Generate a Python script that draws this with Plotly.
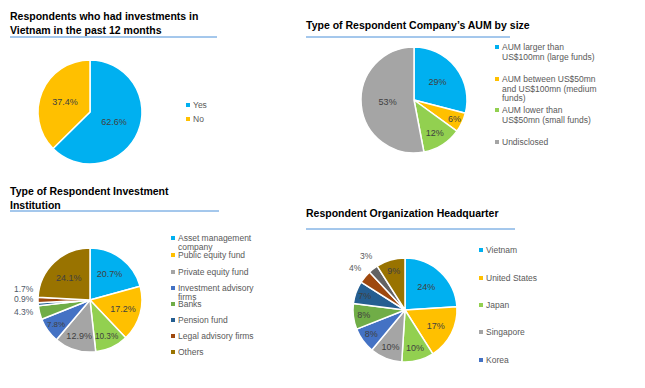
import plotly.graph_objects as go

# page body has an 8px margin: figure is shrunk and coordinates shifted so it fits the 645x388 view
OX, OY = 8, 8
W, H = 645 - OX, 388 - OY

# ---------------- data ----------------
invest_labels = ["Yes", "No"]
invest_values = [62.6, 37.4]

aum_labels = ["AUM larger than<br>US$100mn (large funds)",
              "AUM between US$50mn<br>and US$100mn (medium<br>funds)",
              "AUM lower than<br>US$50mn (small funds)",
              "Undisclosed"]
aum_values = [29, 6, 12, 53]

inst_labels = ["Asset management<br>company", "Public equity fund", "Other", "Private equity fund",
               "Investment advisory<br>firms", "Banks", "Pension fund", "Legal advisory firms", "Others"]
inst_values = [20.7, 17.2, 10.3, 12.9, 7.8, 4.3, 0.9, 1.7, 24.1]
inst_legend_idx = [0, 1, 3, 4, 5, 6, 7, 8]

hq_labels = ["Vietnam", "United States", "Japan", "Singapore", "Korea",
             "Other 1", "Other 2", "Other 3", "Other 4", "Other 5"]
hq_values = [24, 17, 10, 10, 8, 8, 7, 4, 3, 9]
hq_legend_idx = [0, 1, 2, 3, 4]

titles = ["Respondents who had investments in<br>Vietnam in the past 12 months",
          "Type of Respondent Company\u2019s AUM by size",
          "Type of Respondent Investment<br>Institution",
          "Respondent Organization Headquarter"]

PALETTE = ["#00B0F0", "#FFC000", "#92D050", "#A5A5A5", "#4472C4",
           "#70AD47", "#255E91", "#9E480E", "#636363", "#997300"]
INST_COLORS = ["#00B0F0", "#FFC000", "#92D050", "#A5A5A5", "#4472C4",
               "#70AD47", "#255E91", "#9E480E", "#997300"]

FONT = "Liberation Sans, Arial, sans-serif"
LBL = "#404040"
LEG = "#595959"
OUT = "#4F5968"


def px(x):
    return (x - OX) / W


def py(y):
    return 1 - (y - OY) / H


def dom(cx, cy, r):
    return dict(x=[px(cx - r), px(cx + r)], y=[py(cy + r), py(cy - r)])


fig = go.Figure()


def add_pie(labels, values, colors, cx, cy, r, texts):
    fig.add_trace(go.Pie(
        labels=labels, values=values, sort=False, direction="clockwise", rotation=0,
        marker=dict(colors=colors, line=dict(color="white", width=1.5)),
        text=texts, textinfo="text", textposition="inside",
        insidetextorientation="horizontal",
        textfont=dict(family=FONT, size=9, color=LBL),
        domain=dom(cx, cy, r), showlegend=False, hoverinfo="label+percent"))


add_pie(invest_labels, invest_values, PALETTE[:2], 90, 112, 52,
        [f"{v:.1f}%" for v in invest_values])
add_pie(aum_labels, aum_values, PALETTE[:4], 414, 100, 53,
        [f"{v:g}%" for v in aum_values])
add_pie(inst_labels, inst_values, INST_COLORS, 90, 300, 52,
        [f"{v:.1f}%" if v >= 5 else "" for v in inst_values])
add_pie(hq_labels, hq_values, PALETTE, 405, 310, 52,
        [f"{v:g}%" if v >= 5 else "" for v in hq_values])

annotations = []
shapes = []

# titles + underline
title_pos = [(10, 8, 217, 37), (306, 17, 510, 37), (10, 183, 219, 211), (306, 205, 515, 229)]
for t, (x, y, x2, ly) in zip(titles, title_pos):
    annotations.append(dict(text=f"<b>{t}</b>", x=px(x - 2), y=py(y), xref="paper", yref="paper",
                            xanchor="left", yanchor="top", align="left", showarrow=False,
                            font=dict(family=FONT, size=10.5, color="#000000")))
    shapes.append(dict(type="line", xref="paper", yref="paper", x0=px(x), x1=px(x2),
                       y0=py(ly), y1=py(ly), line=dict(color="#4A90D9", width=1)))


def legend(labels, colors, mx, ys, size=8.5, lh=9.6):
    for lab, col, y in zip(labels, colors, ys):
        shapes.append(dict(type="rect", xref="paper", yref="paper",
                           x0=px(mx - 2), x1=px(mx + 2), y0=py(y + 2), y1=py(y - 2),
                           fillcolor=col, line=dict(width=0)))
        for k, line in enumerate(lab.split("<br>")):
            annotations.append(dict(text=line, x=px(mx + 3), y=py(y + k * lh), xref="paper",
                                    yref="paper", xanchor="left", yanchor="middle", align="left",
                                    showarrow=False,
                                    font=dict(family=FONT, size=size, color=LEG)))


legend(invest_labels, PALETTE[:2], 188, [105, 119])
legend(aum_labels, PALETTE[:4], 497, [47, 79, 110, 142])
legend([inst_labels[i] for i in inst_legend_idx], [INST_COLORS[i] for i in inst_legend_idx],
       173, [238, 255, 272, 288, 304, 320, 336, 352], lh=9)
legend([hq_labels[i] for i in hq_legend_idx], [PALETTE[i] for i in hq_legend_idx],
       481, [250, 278, 305, 332, 360])

# outside labels for small slices
for v, (x, y) in zip([inst_values[7], inst_values[6], inst_values[5]], [(36, 296), (36, 306), (36, 319)]):
    annotations.append(dict(text=f"{v:.1f}%", x=px(x), y=py(y), xref="paper", yref="paper",
                            xanchor="right", showarrow=False,
                            font=dict(family=FONT, size=8.5, color=OUT)))
for v, (x, y) in zip([hq_values[8], hq_values[7]], [(366, 263), (355, 275)]):
    annotations.append(dict(text=f"{v:g}%", x=px(x), y=py(y), xref="paper", yref="paper",
                            showarrow=False, font=dict(family=FONT, size=8.5, color=LEG)))

fig.update_layout(width=W, height=H, margin=dict(l=0, r=0, t=0, b=0),
                  paper_bgcolor="white", plot_bgcolor="white",
                  annotations=annotations, shapes=shapes, showlegend=False)

fig.write_html("out.html")
